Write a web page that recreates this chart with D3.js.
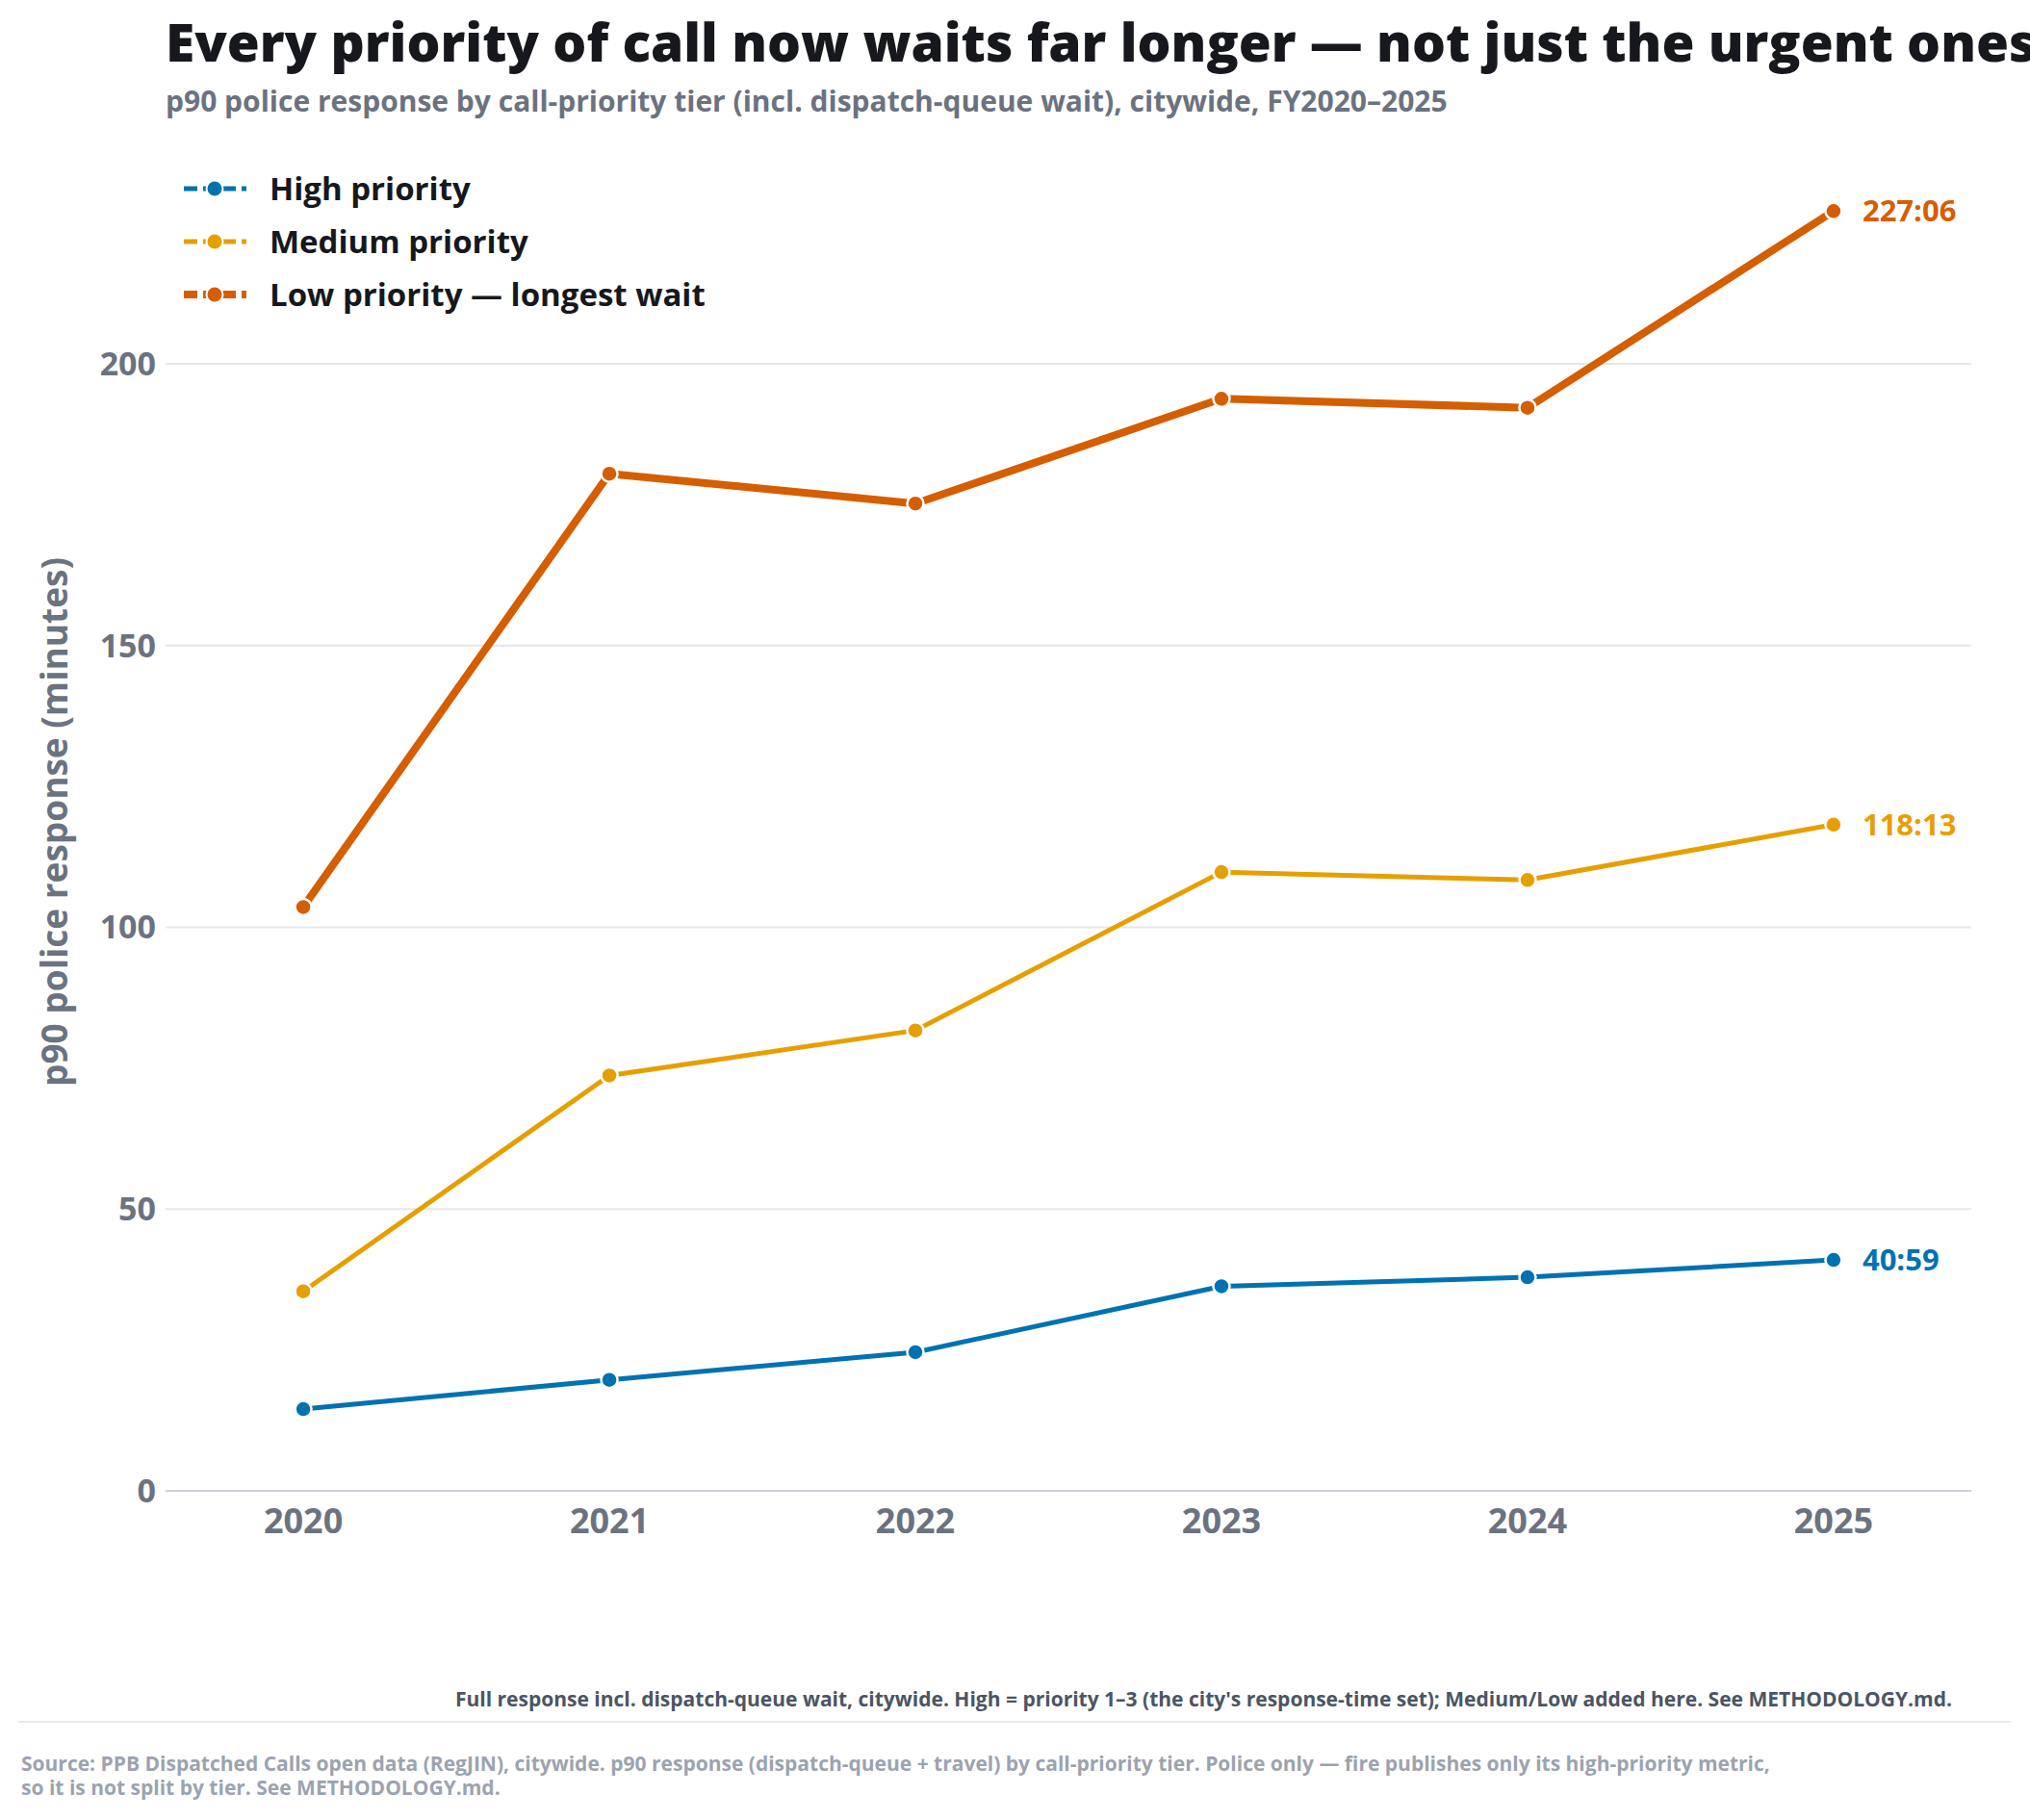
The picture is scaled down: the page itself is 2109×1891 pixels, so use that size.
<!DOCTYPE html>
<html><head><meta charset="utf-8">
<script src="https://cdn.jsdelivr.net/npm/d3@7"></script>
<style>body{margin:0;background:#fff}text{font-family:"Open Sans",Lato,sans-serif}</style>
</head><body><div id="chart"></div>
<script>
const years = [2020, 2021, 2022, 2023, 2024, 2025]
const highVals = [14.5, 19.7, 24.6, 36.3, 37.9, 40.98]
const medVals = [35.4, 73.7, 81.7, 109.8, 108.4, 118.22]
const lowVals = [103.6, 180.5, 175.2, 193.8, 192.2, 227.1]
const seriesNames = ["High priority", "Medium priority", "Low priority \u2014 longest wait"]
const endLabels = ["40:59", "118:13", "227:06"]
const colors = ["#0072B2", "#E69F00", "#D55E00"]
const yTicks = [0, 50, 100, 150, 200]

const W = 2109, H = 1891
const left = 172, right = 2048, bottom = 1549, top200 = 378
const svg = d3.select("#chart").append("svg").attr("width", W).attr("height", H)

const x = d3.scaleLinear().domain([2019.55, 2025.45]).range([left, right])
const y = d3.scaleLinear().domain([0, 200]).range([bottom, top200])

// gridlines
svg.selectAll(".grid").data(yTicks.slice(1)).join("line")
  .attr("x1", left).attr("x2", right).attr("y1", d => y(d)).attr("y2", d => y(d))
  .attr("stroke", "#e5e7eb").attr("stroke-width", 2)
svg.append("line").attr("x1", left).attr("x2", right).attr("y1", bottom).attr("y2", bottom)
  .attr("stroke", "#cbd0d8").attr("stroke-width", 2)

svg.selectAll(".yt").data(yTicks).join("text")
  .attr("x", left - 10).attr("y", d => y(d)).attr("dy", "0.35em")
  .attr("text-anchor", "end").attr("fill", "#6b7280").attr("font-size", 34).attr("font-weight", 700)
  .text(d => d)
svg.selectAll(".xt").data(years).join("text")
  .attr("x", d => x(d)).attr("y", 1593).attr("text-anchor", "middle")
  .attr("fill", "#6b7280").attr("font-size", 36).attr("font-weight", 700).text(d => d)

svg.append("text").attr("transform", "translate(70,854) rotate(-90)").attr("text-anchor", "middle")
  .attr("fill", "#6b7280").attr("font-size", 37).attr("font-weight", 700).text("p90 police response (minutes)")

const all = [highVals, medVals, lowVals]
const widths = [5, 5, 8]
const line = d3.line().x((d, i) => x(years[i])).y(d => y(d))
all.forEach((vals, k) => {
  svg.append("path").datum(vals).attr("d", line).attr("fill", "none")
    .attr("stroke", colors[k]).attr("stroke-width", widths[k]).attr("stroke-linejoin", "round")
  svg.selectAll(".pt" + k).data(vals).join("circle")
    .attr("cx", (d, i) => x(years[i])).attr("cy", d => y(d)).attr("r", 8.5)
    .attr("fill", colors[k]).attr("stroke", "#fff").attr("stroke-width", 2.5)
  svg.append("text").attr("x", x(2025) + 30).attr("y", y(vals[5])).attr("dy", "0.35em")
    .attr("fill", colors[k]).attr("font-size", 31).attr("font-weight", 700).text(endLabels[k])
})

// legend
seriesNames.forEach((n, k) => {
  const ly = 196 + k * 55
  svg.append("line").attr("x1", 191).attr("x2", 256).attr("y1", ly).attr("y2", ly)
    .attr("stroke", colors[k]).attr("stroke-width", widths[k]).attr("stroke-dasharray", "14,6")
  svg.append("circle").attr("cx", 223).attr("cy", ly).attr("r", 8.5).attr("fill", colors[k])
    .attr("stroke", "#fff").attr("stroke-width", 2)
  svg.append("text").attr("x", 280).attr("y", ly).attr("dy", "0.35em")
    .attr("font-size", 33).attr("font-weight", 700).attr("fill", "#16181d").text(n)
})

svg.append("text").attr("x", 172).attr("y", 64).attr("font-size", 55).attr("font-weight", 800)
  .attr("fill", "#16181d").text("Every priority of call now waits far longer \u2014 not just the urgent ones")
svg.append("text").attr("x", 172).attr("y", 116).attr("font-size", 30).attr("font-weight", 700)
  .attr("fill", "#6b7280").text("p90 police response by call-priority tier (incl. dispatch-queue wait), citywide, FY2020\u20132025")

svg.append("text").attr("x", 2028).attr("y", 1773).attr("text-anchor", "end").attr("font-size", 21)
  .attr("font-weight", 700).attr("fill", "#4b5563")
  .text("Full response incl. dispatch-queue wait, citywide. High = priority 1\u20133 (the city's response-time set); Medium/Low added here. See METHODOLOGY.md.")
svg.append("line").attr("x1", 19).attr("x2", 2089).attr("y1", 1789).attr("y2", 1789)
  .attr("stroke", "#e5e7eb").attr("stroke-width", 2)
const src = ["Source: PPB Dispatched Calls open data (RegJIN), citywide. p90 response (dispatch-queue + travel) by call-priority tier. Police only \u2014 fire publishes only its high-priority metric,",
  "so it is not split by tier. See METHODOLOGY.md."]
src.forEach((s, i) => svg.append("text").attr("x", 22).attr("y", 1840 + i * 25).attr("font-size", 21)
  .attr("font-weight", 700).attr("fill", "#9ca3af").text(s))
</script></body></html>
